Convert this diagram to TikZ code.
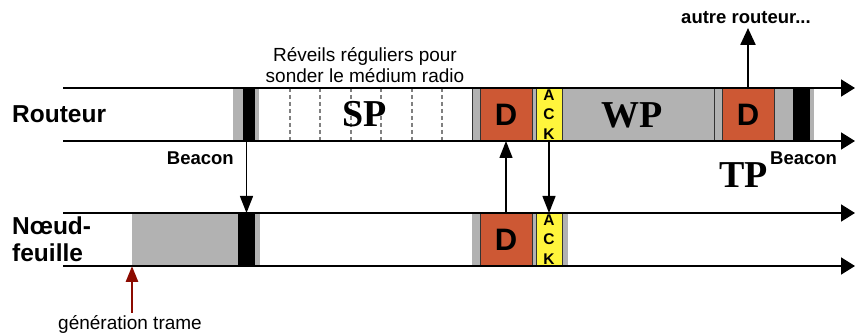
\documentclass[tikz,border=0pt]{standalone}
\usepackage{fontspec}
\setmainfont{Liberation Sans}
\newfontfamily\serifbf{Liberation Serif}
\usetikzlibrary{arrows.meta}
\definecolor{dorange}{RGB}{205,88,52}
\definecolor{ackyel}{RGB}{255,245,60}
\definecolor{sgray}{RGB}{178,178,178}
\definecolor{dred}{RGB}{140,10,0}
\begin{document}
\begin{tikzpicture}[x=1pt,y=-1pt,
  seg/.style={rectangle,inner sep=0pt,outer sep=0pt,anchor=north west,minimum height=53pt},
  gseg/.style={seg,fill=sgray},
  bseg/.style={seg,fill=black},
  dseg/.style={seg,fill=dorange,draw=black!80,line width=0.7pt,minimum width=52pt,
     font=\fontsize{31}{31}\selectfont\bfseries},
  aseg/.style={seg,fill=ackyel,draw=black!80,line width=0.7pt,minimum width=26pt,
     font=\fontsize{15.5}{19.5}\selectfont\bfseries,align=center},
  tl/.style={line width=1.8pt,-{Triangle[length=14pt,width=17pt]}},
  varr/.style={line width=1.4pt,-{Triangle[length=17pt,width=13pt]}},
  big/.style={font=\serifbf\fontsize{38}{38}\selectfont\bfseries},
  lbl/.style={font=\fontsize{24.5}{26}\selectfont\bfseries,inner sep=0pt},
  small/.style={font=\fontsize{18.5}{21}\selectfont\bfseries,inner sep=0pt},
  reg/.style={font=\fontsize{19}{21}\selectfont,inner sep=0pt},
  dsh/.style={draw=black!50,line width=1.4pt,dash pattern=on 4pt off 3pt}]
\useasboundingbox (0,0) rectangle (855,336);
% router band
\node[gseg,minimum width=26pt] (rg1) at (233,88) {};
\node[bseg,minimum width=12pt] (rbk1) at (243,88) {};
\foreach \xx in {290,320,351,381,412,442} \draw[dsh] (\xx,88) -- (\xx,141);
\node[big] (sp) at (365,114) {SP};
\node[gseg,minimum width=318pt,draw=black!80,line width=0.6pt] (rg2) at (472,88) {};
\node[dseg] (rD1) at (480,88) {D};
\node[aseg] (rA) at (536,88) {A\\C\\K};
\node[gseg,minimum width=152pt,draw=black!80,line width=0.6pt] (rwp) at (562,88) {};
\node[big] (wp) at (632,115) {WP};
\node[dseg] (rD2) at (722,88) {D};
\node[gseg,minimum width=24pt] (rg3) at (790,88) {};
\node[bseg,minimum width=17pt] (rbk2) at (793,88) {};
% leaf band
\node[gseg,minimum width=128pt] (lg1) at (132,213) {};
\node[bseg,minimum width=17pt] (lbk) at (238,213) {};
\node[gseg,minimum width=96pt] (lg2) at (472,213) {};
\node[dseg] (lD) at (480,213) {D};
\node[aseg] (lA) at (536,213) {A\\C\\K};
% time lines
\coordinate (rt0) at (63,88);  \coordinate (rt1) at (855,88);
\coordinate (rb0) at (63,141); \coordinate (rb1) at (855,141);
\coordinate (lt0) at (63,213); \coordinate (lt1) at (855,213);
\coordinate (lb0) at (63,266); \coordinate (lb1) at (855,266);
\draw[tl] (rt0) -- (rt1);
\draw[tl] (rb0) -- (rb1);
\draw[tl] (lt0) -- (lt1);
\draw[tl] (lb0) -- (lb1);
% labels
\node[lbl,anchor=base west] (routeur) at (12,123) {Routeur};
\node[lbl,anchor=base west] (noeud) at (12,235) {Nœud-};
\node[lbl,anchor=base west] (feuille) at (12,262) {feuille};
\node[small,anchor=base east] (beacon) at (234,165) {Beacon};
\node[reg,anchor=base] (rev1) at (365,61.5) {Réveils réguliers pour};
\node[reg,anchor=base] (rev2) at (365,82.5) {sonder le médium radio};
\node[small,anchor=base] (autre) at (746,24) {autre routeur...};
\node[big,anchor=base west,inner sep=0pt] (tp) at (719,188) {TP};
\node[small,anchor=base west] (tpb) at (770,165) {Beacon};
\node[reg,anchor=base west] (gen) at (58,330) {génération trame};
% vertical arrows
\coordinate (bR) at (246.5,141);
\coordinate (bL) at (246.5,213);
\draw[varr] (bR) -- (bL);
\draw[varr] (lD.north) -- (rD1.south);
\draw[varr] (rA.south) -- (lA.north);
\coordinate (autreA) at (rD2.north |- 0,28);
\draw[line width=2.4pt,-{Triangle[length=17pt,width=15pt]}] (rD2.north) -- (autreA);
\coordinate (genA) at (132,313);
\draw[draw=dred,line width=2.8pt,-{Triangle[length=16pt,width=12pt]}] (genA) -- (lg1.south west);
\end{tikzpicture}
\end{document}
